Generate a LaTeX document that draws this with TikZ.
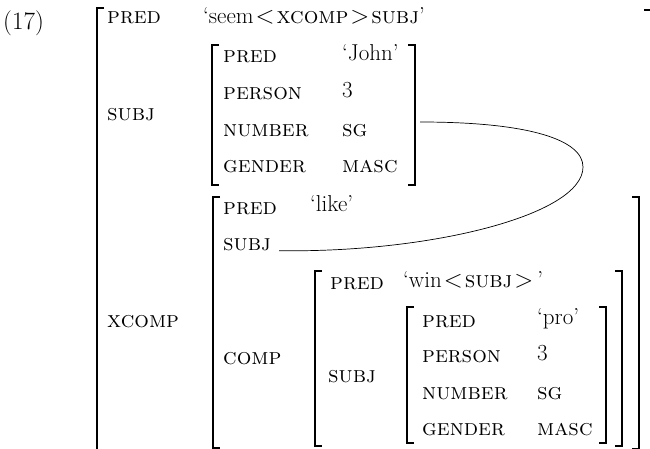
\documentclass[tikz,border=0pt]{standalone}
\usepackage{amsmath}
\usepackage{tikz}
\usetikzlibrary{positioning}
\tikzset{
	x=1pt, y=-1pt, % one unit is one pixel of the page, y grows downwards
	every node/.style={font=\fontsize{23}{28}\selectfont, inner sep=0pt, anchor=west, text height=1.5ex, text depth=.25ex},
	attr/.style={font=\fontsize{23}{28}\selectfont\scshape}, % attribute names
	brak/.style={line width=1.8pt}, % the square brackets
	tie/.style={line width=0.7pt}, % the structure sharing line
}
% left and right square bracket: x, top y, bottom y
\newcommand{\lbrak}[3]{\draw[brak] (#1+7,#2) -- (#1,#2) -- (#1,#3) -- (#1+7,#3);}
\newcommand{\rbrak}[3]{\draw[brak] (#1-7,#2) -- (#1,#2) -- (#1,#3) -- (#1-7,#3);}
\newcommand{\gap}{\hspace{2pt}}
\begin{document}
\begin{tikzpicture}
	\useasboundingbox (0,0) rectangle (650,449);
	\node[anchor=base west, font=\fontsize{25}{30}\selectfont] (num) at (3,30) {(17)};
	% outer f-structure
	\node[attr] (opred) at (107,21) {pred};
	\node (oval) at (203,21) {`seem\gap$<$\gap\textsc{xcomp}\gap$>$\gap\textsc{subj}'};
	\node[attr] (osubj) at (107,118) {subj};
	\node[attr] (oxcomp) at (107,325) {xcomp};
	% subject of seem
	\node[attr] (jpred) at (223,60) {pred};     \node (jval) at (342,58) {`John'};
	\node[attr] (jpers) at (223,97) {person};   \node (jpersv) at (342,95) {3};
	\node[attr] (jnum) at (223,134) {number};   \node[attr] (jnumv) at (342,134) {sg};
	\node[attr] (jgend) at (223,170) {gender};  \node[attr] (jgendv) at (342,170) {masc};
	% xcomp
	\node[attr] (xpred) at (223,212) {pred};    \node (xval) at (310,209) {`like'};
	\node[attr] (xsubj) at (223,248) {subj};
	\node[attr] (xcomp) at (223,362) {comp};
	% comp
	\node[attr] (cpred) at (330,287) {pred};
	\node (cval) at (403,285) {`win\gap$<$\gap\textsc{subj}\gap$>$\,'};
	\node[attr] (csubj) at (328,380) {subj};
	% subject of win
	\node[attr] (ppred) at (422,325) {pred};    \node (pval) at (537,322) {`pro'};
	\node[attr] (ppers) at (422,360) {person};  \node (ppersv) at (537,358) {3};
	\node[attr] (pnum) at (422,397) {number};   \node[attr] (pnumv) at (537,397) {sg};
	\node[attr] (pgend) at (422,433) {gender};  \node[attr] (pgendv) at (537,433) {masc};
	% brackets
	\lbrak{97}{8}{470}
	\draw[brak] (644,10) -- (652,10) -- (652,470);
	\lbrak{212}{45}{185} \rbrak{415}{45}{185}
	\lbrak{213}{197}{448} \rbrak{639}{197}{449}
	\lbrak{315}{271}{446} \rbrak{622}{271}{446}
	\lbrak{407}{307}{443} \rbrak{606}{307}{443}
	% shared subject
	\coordinate (jtie) at (420,122);
	\coordinate (xtie) at ([xshift=8pt]xsubj.base east);
	\draw[tie] (jtie) .. controls (530,122) and (583,140) .. (583,167)
		.. controls (583,215) and (430,253) .. (xtie);
\end{tikzpicture}
\end{document}
